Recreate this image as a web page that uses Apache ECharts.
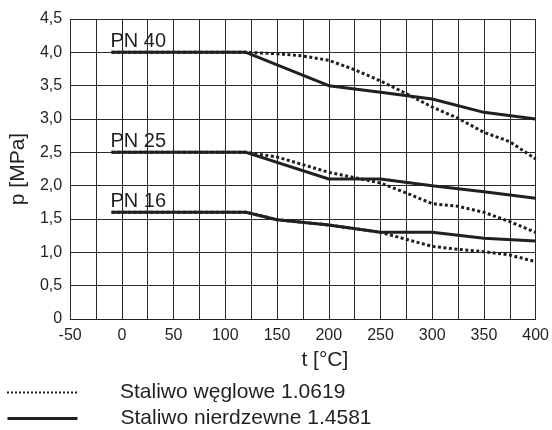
<!DOCTYPE html>
<html><head><meta charset="utf-8">
<script src="https://cdn.jsdelivr.net/npm/echarts@6/dist/echarts.min.js"></script>
<style>html,body{margin:0;padding:0;background:#fff}#c{width:552px;height:430px}</style>
</head><body><div id="c"></div>
<script>
// ---- data ----
const nameCarbon = 'Staliwo węglowe 1.0619';
const nameSteel = 'Staliwo nierdzewne 1.4581';
const xTickLabels = ['-50','0','50','100','150','200','250','300','350','400'];
const yTickLabels = ['0','0,5','1,0','1,5','2,0','2,5','3,0','3,5','4,0','4,5'];

const tSteel40 = [-10, 120, 200, 250, 300, 350, 400];
const pSteel40 = [4.0, 4.0, 3.5, 3.4, 3.3, 3.1, 3.0];
const tCarbon40 = [-10, 120, 150, 175, 200, 225, 250, 275, 300, 325, 350, 375, 400];
const pCarbon40 = [4.0, 4.0, 3.98, 3.945, 3.88, 3.74, 3.57, 3.38, 3.18, 3.01, 2.8, 2.66, 2.4];

const tSteel25 = [-10, 120, 200, 250, 300, 350, 400];
const pSteel25 = [2.5, 2.5, 2.1, 2.1, 2.0, 1.91, 1.81];
const tCarbon25 = [-10, 120, 150, 200, 250, 275, 300, 325, 350, 375, 400];
const pCarbon25 = [2.5, 2.5, 2.43, 2.2, 2.04, 1.89, 1.73, 1.69, 1.6, 1.46, 1.3];

const tSteel16 = [-10, 120, 150, 200, 250, 300, 350, 400];
const pSteel16 = [1.6, 1.6, 1.49, 1.41, 1.3, 1.3, 1.21, 1.17];
const tCarbon16 = [-10, 120, 150, 200, 250, 300, 325, 350, 375, 400];
const pCarbon16 = [1.6, 1.6, 1.49, 1.41, 1.3, 1.09, 1.045, 1.01, 0.96, 0.86];

const pnLabels = ['PN 40', 'PN 25', 'PN 16'];
const pnAnchorT = [-10, -10, -10];
const pnAnchorP = [4.0, 2.5, 1.6];

// ---- build ----
const zip = (a, b) => a.map((v, i) => [v, b[i]]);
const FONT = '"Liberation Sans", Arial, sans-serif';
const INK = '#231f20';

function carbon(t, p) {
  return { name: nameCarbon, type: 'line', data: zip(t, p), symbol: 'none', z: 2,
    lineStyle: { color: INK, width: 3, type: [3, 2.5], cap: 'butt' }, itemStyle: { color: INK } };
}
function steel(t, p, idx) {
  return { name: nameSteel, type: 'line', data: zip(t, p), symbol: 'none', z: 3,
    lineStyle: { color: INK, width: 3, type: 'solid' }, itemStyle: { color: INK },
    markPoint: { symbol: 'circle', symbolSize: 0, silent: true,
      data: [{ coord: [pnAnchorT[idx], pnAnchorP[idx]], value: pnLabels[idx] }],
      label: { show: true, formatter: pnLabels[idx], position: [0, 0], align: 'left', verticalAlign: 'bottom',
        offset: [-1, -1], fontSize: 20, fontFamily: FONT, color: INK } } };
}
function legendRow(name, top, lineStyle) {
  return {
    orient: 'vertical', left: 6, top: top, itemWidth: 70, itemHeight: 20, padding: 0,
    data: [{ name: name, itemStyle: { color: 'rgba(0,0,0,0)', borderWidth: 0 }, lineStyle: lineStyle }],
    selectedMode: false,
    textStyle: { fontSize: 21, fontFamily: FONT, color: INK, padding: [0, 0, 0, 38] }
  };
}

const chart = echarts.init(document.getElementById('c'), null, { renderer: 'canvas' });
chart.setOption({
  animation: false,
  backgroundColor: '#fff',
  grid: { left: 69, right: 15, top: 19, bottom: 111, containLabel: false },
  legend: [
    legendRow(nameCarbon, 382, { width: 2, type: [2, 2] }),
    legendRow(nameSteel, 408, { width: 3 })
  ],
  xAxis: {
    type: 'value', min: -50, max: 400, interval: 25,
    name: 't [°C]', nameLocation: 'middle', nameGap: 31,
    nameTextStyle: { fontSize: 21, fontFamily: FONT, color: INK, padding: [0, 0, 0, 44] },
    axisLine: { lineStyle: { color: INK, width: 1 } },
    axisTick: { show: false },
    axisLabel: { fontSize: 16, fontFamily: FONT, color: INK, margin: 9,
      formatter: v => (v % 50 === 0 ? xTickLabels[(v + 50) / 50] : '') },
    splitLine: { show: true, lineStyle: { color: '#2a2a2a', width: 1 } }
  },
  yAxis: {
    type: 'value', min: 0, max: 4.5, interval: 0.5,
    name: 'p [MPa]', nameLocation: 'middle', nameGap: 35, nameRotate: 90,
    nameTextStyle: { fontSize: 21, fontFamily: FONT, color: INK },
    axisLine: { show: true, lineStyle: { color: INK, width: 1 } },
    axisTick: { show: false },
    axisLabel: { fontSize: 16, fontFamily: FONT, color: INK, margin: 8,
      formatter: v => yTickLabels[Math.round(v / 0.5)] },
    splitLine: { show: true, lineStyle: { color: '#2a2a2a', width: 1 } }
  },
  series: [
    carbon(tCarbon40, pCarbon40),
    carbon(tCarbon25, pCarbon25),
    carbon(tCarbon16, pCarbon16),
    steel(tSteel40, pSteel40, 0),
    steel(tSteel25, pSteel25, 1),
    steel(tSteel16, pSteel16, 2)
  ]
});
</script></body></html>
